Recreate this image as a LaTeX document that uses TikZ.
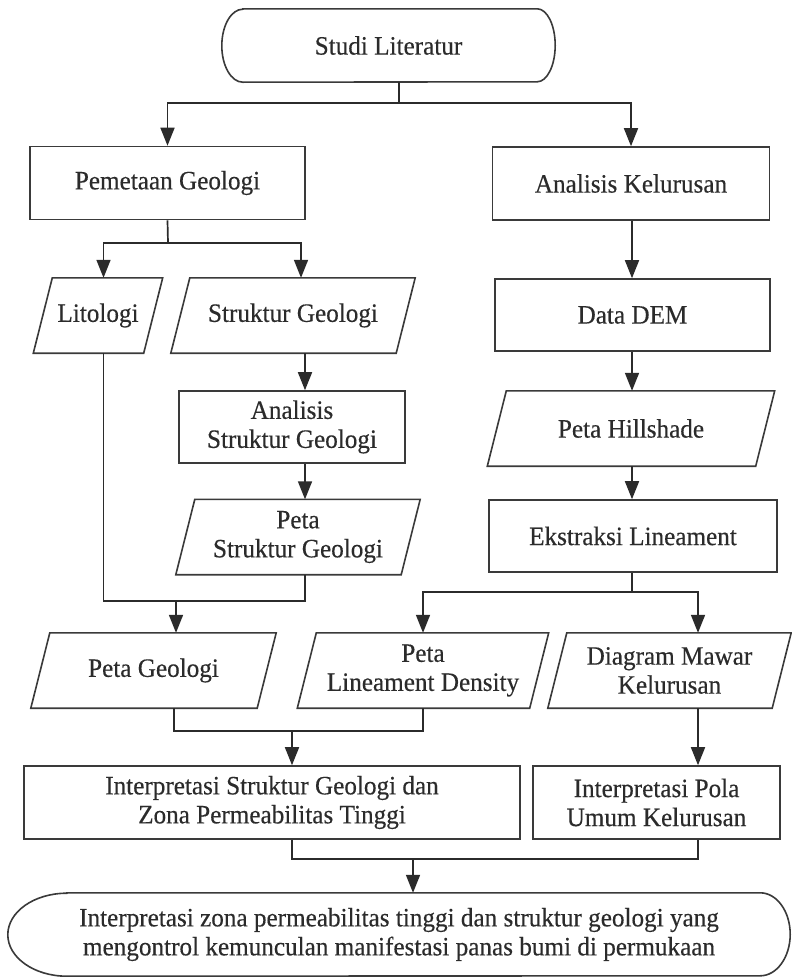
\documentclass[tikz,border=0pt]{standalone}
\usepackage{fontspec}
\setmainfont{Liberation Serif}[FakeStretch=0.95,FakeBold=0.35]
\usetikzlibrary{arrows.meta,calc}
\definecolor{ink}{HTML}{2B2B2B}
\definecolor{edge}{HTML}{3A3A3A}
\tikzset{
  base/.style={inner sep=2pt, align=center, text=ink, font=\fontsize{26.5}{29}\selectfont},
  rectbox/.style={base, draw=edge, line width=1.6pt, rectangle, minimum height=73pt},
  parabox/.style={base, rectangle, minimum height=75pt},
  termbox/.style={base, rectangle},
  boxline/.style={draw=edge, line width=1.6pt},
  conn/.style={draw=ink, line width=1.7pt},
  arr/.style={conn, -{Triangle[length=18pt,width=14pt]}},
}
\newcommand{\mkpara}[5]{%
  \node[parabox, minimum width=#4pt] (#1) at (#2,#3) {#5};
  \draw[boxline] ($(#1.north west)+(9.5,0)$) -- ($(#1.north east)+(9.5,0)$) -- ($(#1.south east)+(-9.5,0)$) -- ($(#1.south west)+(-9.5,0)$) -- cycle;}
\newcommand{\mkterm}[4]{%
  \draw[boxline] ($(#1.north west)+(#2,0)$) -- ($(#1.north east)+(-#3,0)$) arc[start angle=-90,end angle=90,x radius=#3,y radius=#4] -- ($(#1.south west)+(#2,0)$) arc[start angle=90,end angle=270,x radius=#2,y radius=#4] -- cycle;}
\begin{document}
\begin{tikzpicture}[x=1pt,y=-1pt]
\fill[white] (0,0) rectangle (792,977);
\useasboundingbox (0,0) rectangle (792,977);

% nodes
\node[termbox, minimum width=333pt, minimum height=73pt] (studi) at (388.5,45.5) {Studi Literatur};
\mkterm{studi}{21}{18}{36.5}
\node[rectbox, minimum width=275pt] (pemetaan) at (167.5,183) {Pemetaan Geologi};
\node[rectbox, minimum width=277pt] (analisis) at (631,183.5) {Analisis Kelurusan};
\mkpara{litologi}{98}{315.5}{110}{Litologi}
\mkpara{struktur}{293}{315.5}{225}{Struktur Geologi}
\node[rectbox, minimum width=275pt, minimum height=72pt] (datadem) at (632.5,315) {Data DEM};
\node[rectbox, minimum width=226pt, minimum height=72pt] (analstruk) at (292,427) {Analisis\\Struktur Geologi};
\mkpara{hillshade}{631}{428.5}{268}{Peta Hillshade}
\mkpara{petastruk}{298}{537}{225}{Peta\\Struktur Geologi}
\node[rectbox, minimum width=288pt, minimum height=72pt] (ekstraksi) at (633,536) {Ekstraksi Lineament};
\mkpara{petageo}{153.5}{670.5}{226}{Peta Geologi}
\mkpara{lineament}{423}{670.5}{232}{Peta\\Lineament Density}
\mkpara{mawar}{669.5}{670.5}{224}{Diagram Mawar\\Kelurusan}
\node[rectbox, minimum width=496pt] (interp1) at (272,802.5) {Interpretasi Struktur Geologi dan\\Zona Permeabilitas Tinggi};
\node[rectbox, minimum width=247pt] (interp2) at (656.5,802.5) {Interpretasi Pola\\Umum Kelurusan};
\node[termbox, minimum width=782pt, minimum height=83pt] (final) at (399,934.5) {Interpretasi zona permeabilitas tinggi dan struktur geologi yang\\mengontrol kemunculan manifestasi panas bumi di permukaan};
\mkterm{final}{59}{30}{41.5}

% junction coordinates
\coordinate (s1) at (399,103);
\coordinate (p1) at (168,243);
\coordinate (colA) at (103.5,0);
\coordinate (colB) at (305,0);
\coordinate (colC) at (632,0);
\coordinate (colD) at (698,0);
\coordinate (j2) at (176,601);
\coordinate (j3) at (632,592);
\coordinate (j4) at (292,731);
\coordinate (gA) at (174,0);
\coordinate (j5) at (413,859);

% connectors
\draw[conn] (studi.south -| s1) -- (s1);
\draw[arr] (s1) -| (pemetaan.north);
\draw[arr] (s1) -| (analisis.north);

\draw[conn] (pemetaan.south) -- (p1);
\draw[arr] (p1) -| (litologi.north -| colA);
\draw[arr] (p1) -| ([xshift=8pt]struktur.north);

\draw[arr] (struktur.south -| colB) -- (analstruk.north -| colB);
\draw[arr] (analstruk.south -| colB) -- (petastruk.north -| colB);

\draw[conn] (litologi.south -| colA) -- (colA |- j2) -- (colB |- j2) -- (petastruk.south -| colB);
\draw[arr] (j2) -- (petageo.north -| j2);

\draw[arr] (analisis.south -| colC) -- (datadem.north -| colC);
\draw[arr] (datadem.south -| colC) -- (hillshade.north -| colC);
\draw[arr] (hillshade.south -| colC) -- (ekstraksi.north -| colC);

\draw[conn] (ekstraksi.south -| colC) -- (j3);
\draw[arr] (j3) -| (lineament.north);
\draw[arr] (j3) -| (mawar.north -| colD);

\draw[conn] (petageo.south -| gA) -- (gA |- j4) -- (lineament.south |- j4) -- (lineament.south);
\draw[arr] (j4) -- (interp1.north -| j4);
\draw[arr] (mawar.south -| colD) -- (interp2.north -| colD);

\draw[conn] (interp1.south -| j4) -- (j4 |- j5) -- (colD |- j5) -- (interp2.south -| colD);
\draw[arr] (j5) -- (final.north -| j5);
\end{tikzpicture}
\end{document}
